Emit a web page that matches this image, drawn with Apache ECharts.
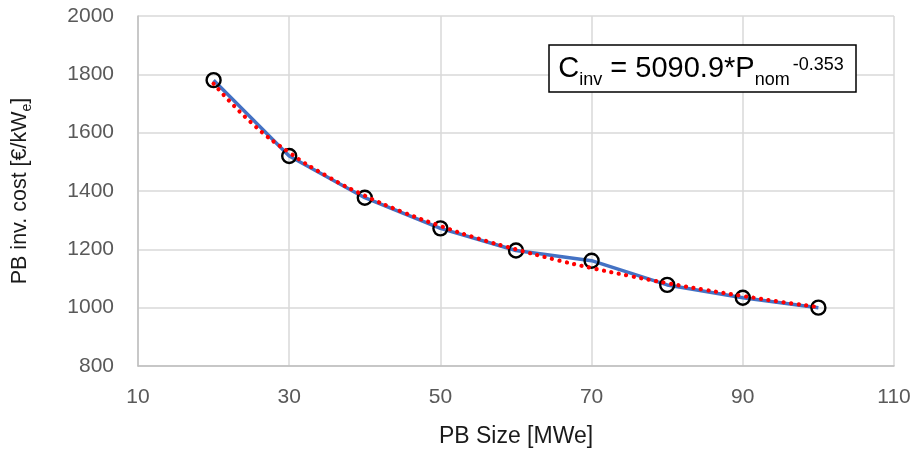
<!DOCTYPE html>
<html>
<head>
<meta charset="utf-8">
<script src="https://cdn.jsdelivr.net/npm/echarts@6/dist/echarts.min.js"></script>
<style>html,body{margin:0;padding:0;background:#fff}#c{width:914px;height:450px}</style>
</head>
<body>
<div id="c"></div>
<script>
// Data
const sizes = [20, 30, 40, 50, 60, 70, 80, 90, 100];
const costs = [1780, 1520, 1377, 1272, 1196, 1161, 1078, 1034, 1000];
// Power-law trendline values
const trendSizes = [20, 25, 30, 35, 40, 45, 50, 55, 60, 65, 70, 75, 80, 85, 90, 95, 100];
const trendCosts = [1768, 1634, 1532, 1451, 1384, 1328, 1280, 1237, 1200, 1166, 1136, 1109, 1084, 1061, 1040, 1020, 1002];
const xTicks = [10, 30, 50, 70, 90, 110];
const yTicks = [800, 1000, 1200, 1400, 1600, 1800, 2000];

const chart = echarts.init(document.getElementById('c'));
const font = 'Liberation Sans, Arial, sans-serif';
chart.setOption({
  animation: false,
  textStyle: { fontFamily: font },
  grid: { left: 138, right: 20, top: 16, bottom: 84, containLabel: false, outerBoundsMode: 'none' },
  xAxis: {
    type: 'value', min: xTicks[0], max: xTicks[xTicks.length - 1], interval: 20,
    name: 'PB Size [MWe]', nameLocation: 'middle', nameGap: 59,
    nameTextStyle: { fontSize: 23, color: '#1a1a1a', fontFamily: font },
    axisLine: { show: true, lineStyle: { color: '#bfbfbf', width: 1.5 } },
    axisTick: { show: false },
    axisLabel: { fontSize: 21, color: '#595959', margin: 21, fontFamily: font, formatter: v => String(v) },
    splitLine: { show: true, lineStyle: { color: '#d9d9d9', width: 1.5 } }
  },
  yAxis: {
    type: 'value', min: yTicks[0], max: yTicks[yTicks.length - 1], interval: 200,
    name: '{a|PB inv. cost [€/kW}{s|e}{a|]}', nameLocation: 'middle', nameGap: 104,
    nameTextStyle: {
      fontSize: 21.5, color: '#1a1a1a', fontFamily: font,
      rich: {
        a: { fontSize: 21.5, color: '#1a1a1a', fontFamily: font, lineHeight: 28, verticalAlign: 'middle' },
        s: { fontSize: 14, color: '#1a1a1a', fontFamily: font, lineHeight: 28, verticalAlign: 'bottom', padding: [10, 0, 0, 0] }
      }
    },
    axisLine: { show: true, lineStyle: { color: '#bfbfbf', width: 1.5 } },
    axisTick: { show: false },
    axisLabel: { fontSize: 21, color: '#595959', margin: 24, fontFamily: font, formatter: v => String(v) },
    splitLine: { show: true, lineStyle: { color: '#d9d9d9', width: 1.5 } }
  },
  series: [
    {
      type: 'line',
      data: sizes.map((s, i) => [s, costs[i]]),
      lineStyle: { color: '#4472C4', width: 3.5 },
      symbol: 'circle', symbolSize: 14,
      itemStyle: { color: 'rgba(0,0,0,0)', borderColor: '#000', borderWidth: 2.4 },
      z: 3
    },
    {
      type: 'line',
      data: trendSizes.map((s, i) => [s, trendCosts[i]]),
      smooth: true,
      showSymbol: false,
      lineStyle: { color: '#ff0000', width: 4.2, type: [0.1, 7.5], cap: 'round' },
      z: 4
    }
  ],
  graphic: [
    {
      type: 'rect',
      shape: { x: 549, y: 45, width: 307, height: 47 },
      style: { fill: '#fff', stroke: '#000', lineWidth: 1.5 },
      z: 10
    },
    {
      type: 'text',
      x: 701, y: 69,
      style: {
        text: '{m|C}{b|inv}{m| = 5090.9*P}{b|nom}{t|-0.353}',
        align: 'center', verticalAlign: 'middle',
        fontFamily: font,
        rich: {
          m: { fontSize: 29, fill: '#000', fontFamily: font, lineHeight: 40, verticalAlign: 'middle' },
          b: { fontSize: 18, fill: '#000', fontFamily: font, lineHeight: 40, verticalAlign: 'bottom', padding: [12, 0, 0, 0] },
          t: { fontSize: 18, fill: '#000', fontFamily: font, lineHeight: 40, verticalAlign: 'top', padding: [7, 0, 0, 3] }
        }
      },
      z: 11
    }
  ]
});
</script>
</body>
</html>
